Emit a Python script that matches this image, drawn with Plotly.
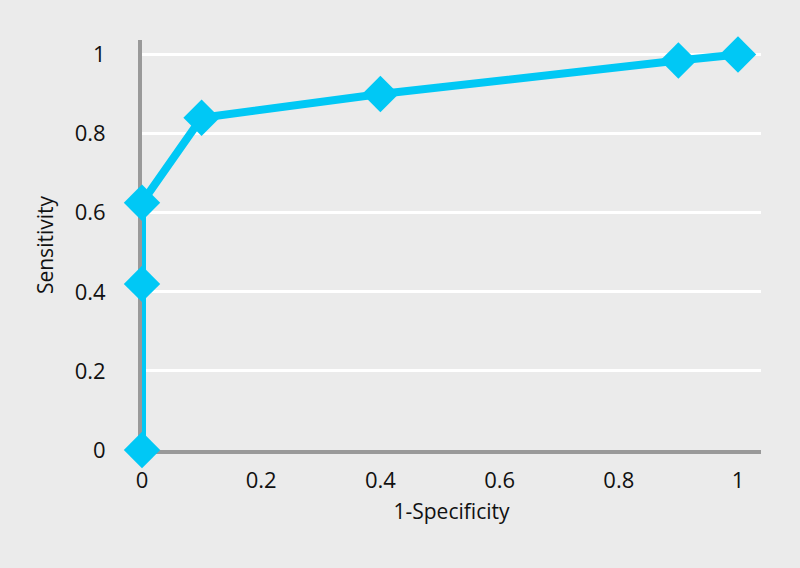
import plotly.graph_objects as go

fpr = [0, 0, 0, 0.1, 0.4, 0.9, 1]
sensitivity = [0, 0.42, 0.625, 0.84, 0.9, 0.985, 1]
tick_vals = [0, 0.2, 0.4, 0.6, 0.8, 1]
tick_text = ["0", "0.2", "0.4", "0.6", "0.8", "1"]

fig = go.Figure(go.Scatter(
    x=fpr, y=sensitivity,
    mode="lines+markers",
    line=dict(color="#00c8f5", width=8),
    marker=dict(symbol="diamond", size=28, color="#00c8f5"),
    cliponaxis=False,
))

fig.update_layout(
    width=800, height=568,
    margin=dict(l=142, r=39, t=40, b=118),
    paper_bgcolor="#ebebeb", plot_bgcolor="#ebebeb",
    font=dict(family="Open Sans", size=22, color="#111111"),
    showlegend=False,
)
fig.update_xaxes(
    range=[0, 1.0386], tickvals=tick_vals, ticktext=tick_text,
    showgrid=False, zeroline=False,
    showline=True, linecolor="#999999", linewidth=4, layer="below traces",
    ticks="", ticklabelstandoff=8,
    title=dict(text="1-Specificity", standoff=12, font=dict(size=21)),
)
fig.update_yaxes(
    range=[0, 1.0367], tickvals=tick_vals, ticktext=tick_text,
    showgrid=True, gridcolor="white", gridwidth=3, zeroline=False,
    showline=True, linecolor="#999999", linewidth=4, layer="below traces",
    ticks="", ticklabelstandoff=28,
    title=dict(text="Sensitivity", standoff=16, font=dict(size=21)),
)

# drop the default page margin so the figure sits at the window's corner
fig.write_html("out.html", config={"displayModeBar": False},
               post_script="document.body.style.margin='0';")
